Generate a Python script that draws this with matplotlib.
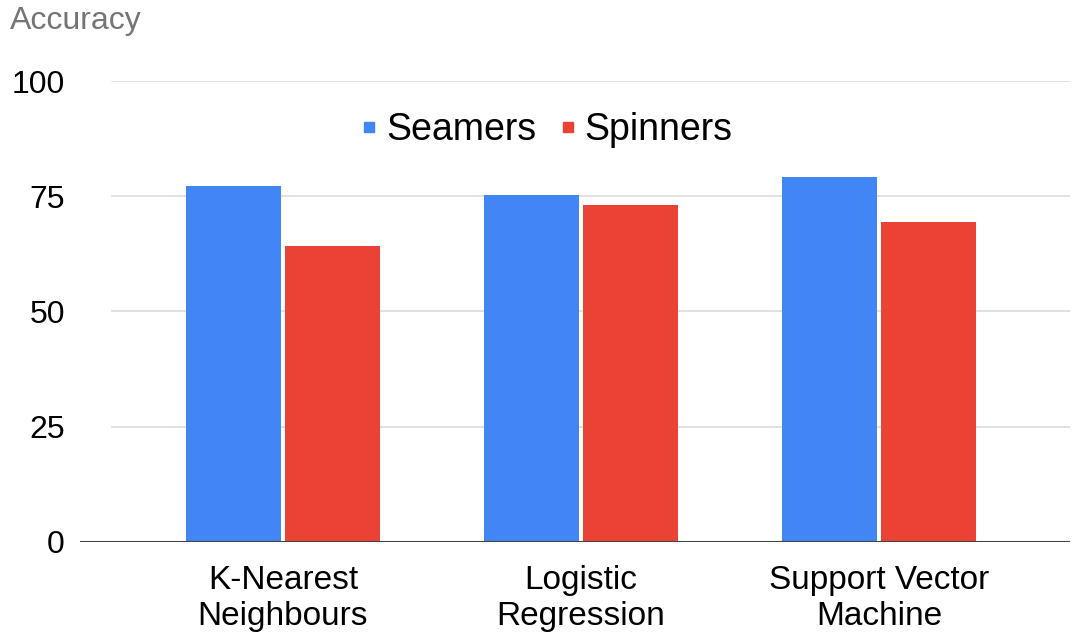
import matplotlib.pyplot as plt
from matplotlib.lines import Line2D
import numpy as np

plt.rcParams['font.family'] = ['Liberation Sans', 'DejaVu Sans']

models = ["K-Nearest\nNeighbours", "Logistic\nRegression", "Support Vector\nMachine"]
seamers = [77.2, 75.2, 79.2]
spinners = [64.2, 73.0, 69.5]
yticks = [0, 25, 50, 75, 100]

blue = "#4285F4"
red = "#EA4335"

fig = plt.figure(figsize=(10.73, 6.39), dpi=100)
ax = fig.add_axes([0.0746, 0.1523, 0.9226, 0.7209])

x = np.arange(len(models))
w = 0.318
ax.bar(x - 0.165, seamers, w, color=blue, zorder=3)
ax.bar(x + 0.165, spinners, w, color=red, zorder=3)

ax.set_xlim(-0.681, 2.641)
ax.set_ylim(0, 100)
ax.set_yticks(yticks)
ax.set_xticks(x)
ax.set_xticklabels(models, fontsize=24, linespacing=1.2)
ax.tick_params(axis='y', length=0, pad=11, labelsize=23)
ax.tick_params(axis='x', length=0, pad=17)

for s in ax.spines.values():
    s.set_visible(False)

# light gridlines start a bit right of the baseline
for t in yticks[1:]:
    ax.axhline(t, xmin=0.032, xmax=1.0, color="#dcdcdc", lw=1.2, zorder=1)
ax.axhline(0, color="#444444", lw=1.5, zorder=4)

fig.text(0.009, 0.967, "Accuracy", fontsize=23, color="#757575", va="center", ha="left")

handles = [Line2D([], [], marker='s', ls='', color=blue, markersize=7.5),
           Line2D([], [], marker='s', ls='', color=red, markersize=7.5)]
fig.legend(handles, ["Seamers", "Spinners"], loc="center", bbox_to_anchor=(0.509, 0.797),
           ncol=2, frameon=False, fontsize=27, handletextpad=0.2, columnspacing=0.6,
           handlelength=0.5, borderpad=0, borderaxespad=0)

fig.savefig("out.png", dpi=100)
